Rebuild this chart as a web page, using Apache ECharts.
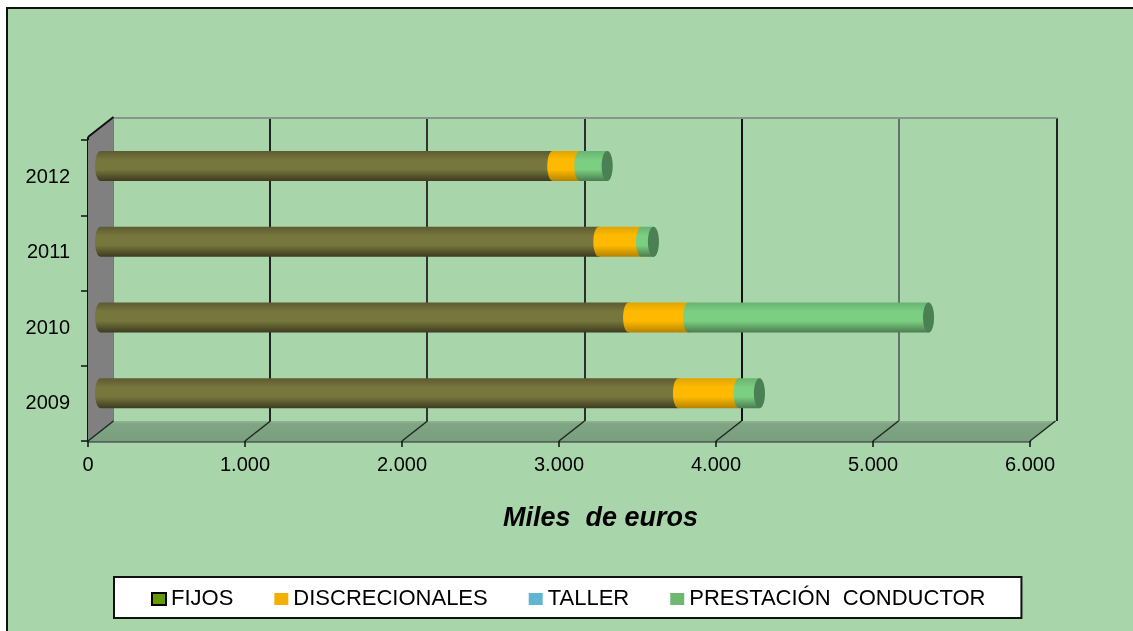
<!DOCTYPE html>
<html>
<head>
<meta charset="utf-8">
<style>
  html, body { margin: 0; padding: 0; background: #fff; overflow: hidden; }
  .panel { position: absolute; left: 6px; top: 7px; right: 0; bottom: 0; background: #a9d5ab; border-left: 2px solid #111; border-top: 2px solid #111; }
  #chart { position: absolute; left: 0; top: 0; width: 1133px; height: 631px; }
</style>
</head>
<body>
<div class="panel"></div>
<div id="chart"></div>
<script src="https://cdn.jsdelivr.net/npm/echarts@6/dist/echarts.min.js"></script>
<script>
const years = ["2009", "2010", "2011", "2012"];
const fijos = [3674, 3357, 3168, 2875];
const discrecionales = [385, 381, 271, 172];
const taller = [0, 0, 0, 0];
const prestacion = [130, 1526, 76, 174];
const xTicks = [0, 1000, 2000, 3000, 4000, 5000, 6000];
const xTickLabels = ["0", "1.000", "2.000", "3.000", "4.000", "5.000", "6.000"];

const FONT = "Liberation Sans";
const DEPTH_X = 25.5;
const DEPTH_Y = -20;
const CAP_RX = 5.5;

const shade = (top, mid, bottom) =>
  new echarts.graphic.LinearGradient(0, 0, 0, 1, [
    { offset: 0, color: top },
    { offset: 0.3, color: mid },
    { offset: 0.62, color: mid },
    { offset: 1, color: bottom }
  ]);

// points of half an ellipse, used for the curved ends of the tube
function arc(cx, cy, ry, from, to) {
  const out = [];
  for (let i = 0; i <= 14; i++) {
    const a = from + ((to - from) * i) / 14;
    out.push([cx + CAP_RX * Math.cos(a), cy + ry * Math.sin(a)]);
  }
  return out;
}

function tubeRows(values, below) {
  return values.map((v, i) => [below[i], below[i] + v, years[i]]);
}

function tubeSeries(name, legendColor, fill, rows, last) {
  return {
    type: "custom",
    name,
    xAxisIndex: 1,
    yAxisIndex: 1,
    z: 4,
    silent: true,
    clip: false,
    itemStyle: { color: legendColor },
    encode: { x: [0, 1], y: 2 },
    data: rows,
    renderItem(params, api) {
      if (api.value(1) <= api.value(0)) return;
      const a = api.coord([api.value(0), api.value(2)]);
      const b = api.coord([api.value(1), api.value(2)]);
      const ry = 15;
      const points = arc(b[0], b[1], ry, -Math.PI / 2, Math.PI / 2).concat(
        arc(a[0], a[1], ry, Math.PI / 2, (3 * Math.PI) / 2)
      );
      const children = [{ type: "polygon", shape: { points }, style: { fill } }];
      if (last) {
        children.push({
          type: "ellipse",
          shape: { cx: b[0], cy: b[1], rx: CAP_RX, ry },
          style: { fill: "#4a8053" }
        });
      }
      return { type: "group", children };
    }
  };
}

function renderFrame(params, api) {
  const sys = params.coordSys;
  const bottom = sys.y + sys.height;
  const x = api.coord([api.value(0), years[0]])[0];
  const children = [];
  if (params.dataIndex === 0) {
    const wallTop = sys.y - 3;
    children.push({
      type: "polygon",
      shape: {
        points: [
          [sys.x, bottom],
          [sys.x + sys.width, bottom],
          [sys.x + sys.width + DEPTH_X, bottom + DEPTH_Y],
          [sys.x + DEPTH_X, bottom + DEPTH_Y]
        ]
      },
      style: {
        fill: new echarts.graphic.LinearGradient(0, 1, 0, 0, [
          { offset: 0, color: "#7a9f7e" },
          { offset: 0.85, color: "#7fa583" },
          { offset: 1, color: "#93b496" }
        ])
      }
    });
    children.push({
      type: "polygon",
      shape: {
        points: [
          [sys.x, wallTop],
          [sys.x + DEPTH_X, wallTop + DEPTH_Y],
          [sys.x + DEPTH_X, bottom + DEPTH_Y],
          [sys.x, bottom]
        ]
      },
      style: { fill: "#808080" }
    });
    children.push({
      type: "line",
      shape: { x1: sys.x, y1: wallTop, x2: sys.x + DEPTH_X, y2: wallTop + DEPTH_Y },
      style: { stroke: "#111", lineWidth: 2 }
    });
    children.push({
      type: "line",
      shape: { x1: sys.x, y1: wallTop, x2: sys.x, y2: sys.y },
      style: { stroke: "#111", lineWidth: 2 }
    });
  }
  children.push({
    type: "line",
    shape: { x1: x, y1: bottom, x2: x + DEPTH_X, y2: bottom + DEPTH_Y },
    style: { stroke: "#1c2a1f", lineWidth: 1.5 }
  });
  return { type: "group", children };
}

const hidden = { axisLabel: { show: false }, axisTick: { show: false }, axisLine: { show: false }, splitLine: { show: false } };

const fijosEnd = fijos.map((v, i) => v);
const discEnd = fijosEnd.map((v, i) => v + discrecionales[i]);
const tallerEnd = discEnd.map((v, i) => v + taller[i]);

const chart = echarts.init(document.getElementById("chart"), null, { renderer: "canvas" });
chart.setOption({
  animation: false,
  title: {
    text: "Miles  de euros",
    left: 503,
    top: 505,
    padding: 0,
    textStyle: { fontFamily: FONT, fontSize: 27, fontWeight: "bold", fontStyle: "italic", color: "#000" }
  },
  legend: {
    left: 114,
    top: 577,
    padding: [11, 36, 8, 37],
    itemGap: 41,
    itemWidth: 14,
    itemHeight: 12,
    selectedMode: false,
    backgroundColor: "#fff",
    borderColor: "#111",
    borderWidth: 2,
    borderRadius: 0,
    textStyle: { fontFamily: FONT, fontSize: 22, color: "#000" },
    data: [
      { name: "FIJOS", icon: "rect", itemStyle: { borderColor: "#000", borderWidth: 2 } },
      { name: "DISCRECIONALES", icon: "rect" },
      { name: "TALLER", icon: "rect" },
      { name: "PRESTACIÓN  CONDUCTOR", icon: "rect" }
    ]
  },
  grid: [
    { left: 88, top: 140, width: 942, height: 301 },
    { left: 100.5, top: 128.1, width: 943.8, height: 303 },
    { left: 112.5, top: 118, width: 944, height: 303 }
  ],
  xAxis: [
    {
      gridIndex: 0,
      type: "value",
      min: 0,
      max: 6000,
      interval: 1000,
      axisLine: { show: true, onZero: false, lineStyle: { color: "#55625a", width: 2.5 } },
      axisTick: { show: true, length: 6, lineStyle: { color: "#111", width: 1.5 } },
      axisLabel: {
        margin: 14,
        fontFamily: FONT,
        fontSize: 20,
        color: "#000",
        formatter: (v) => xTickLabels[xTicks.indexOf(v)]
      },
      splitLine: { show: false }
    },
    { gridIndex: 1, type: "value", min: 0, max: 6000, interval: 1000, ...hidden },
    {
      gridIndex: 2,
      type: "value",
      position: "top",
      min: 0,
      max: 6000,
      interval: 1000,
      axisLabel: { show: false },
      axisTick: { show: false },
      axisLine: { show: true, lineStyle: { color: "#85978a", width: 2 } },
      splitLine: {
        show: true,
        lineStyle: { width: 2, color: ["#66736a", "#222", "#333", "#2a2f2b", "#111", "#64736a", "#222"] }
      }
    }
  ],
  yAxis: [
    {
      gridIndex: 0,
      type: "category",
      data: years,
      axisLine: { show: true, onZero: false, lineStyle: { color: "#111", width: 2 } },
      axisTick: { show: true, length: 7, lineStyle: { color: "#111", width: 1.5 } },
      axisLabel: { margin: 18, fontFamily: FONT, fontSize: 20, color: "#000" },
      splitLine: { show: false }
    },
    { gridIndex: 1, type: "category", data: years, ...hidden },
    { gridIndex: 2, type: "category", data: years, ...hidden }
  ],
  series: [
    {
      type: "custom",
      xAxisIndex: 0,
      yAxisIndex: 0,
      z: 1,
      silent: true,
      clip: false,
      encode: { x: 0 },
      data: xTicks.map((v) => [v]),
      renderItem: renderFrame
    },
    tubeSeries("FIJOS", "#669900", shade("#5d5a31", "#77763d", "#3d3b1f"), tubeRows(fijos, years.map(() => 0)), false),
    tubeSeries("DISCRECIONALES", "#f2b000", shade("#e0a500", "#ffba00", "#b58300"), tubeRows(discrecionales, fijosEnd), false),
    tubeSeries("TALLER", "#62b5d0", shade("#4f93aa", "#62b5d0", "#3e7587"), tubeRows(taller, discEnd), false),
    tubeSeries("PRESTACIÓN  CONDUCTOR", "#6fb872", shade("#68b372", "#7bcf80", "#4a7c50"), tubeRows(prestacion, tallerEnd), true)
  ]
});
</script>
</body>
</html>
